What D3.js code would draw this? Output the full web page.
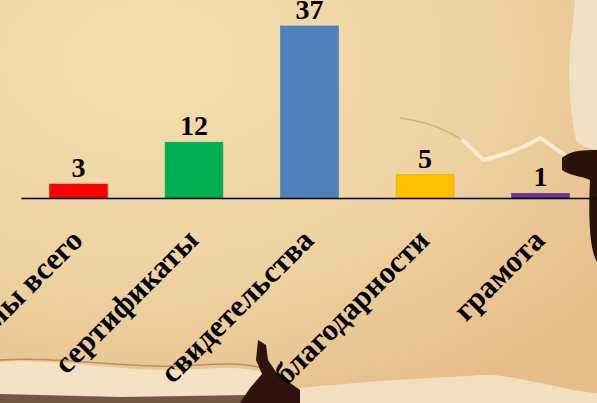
<!DOCTYPE html>
<html>
<head>
<meta charset="utf-8">
<script src="https://cdn.jsdelivr.net/npm/d3@7"></script>
<style>
  body { margin: 0; }
  svg { display: block; }
  .lbl { font-family: "Liberation Serif", "Times New Roman", serif; font-weight: bold; fill: #000; }
</style>
</head>
<body>
<svg width="597" height="403"></svg>
<script>
// data
var categories = ['дипломы всего', 'сертификаты', 'свидетельства', 'благодарности', 'грамота'];
var values = [3, 12, 37, 5, 1];
var colors = ['#ff0000', '#00b050', '#4f81bd', '#ffc000', '#7030a0'];

var svg = d3.select('svg');
var W = 597, H = 403;
var baseY = 198;

// parchment background
var defs = svg.append('defs');
var bg = defs.append('radialGradient').attr('id', 'paper')
  .attr('cx', '25%').attr('cy', '15%').attr('r', '95%');
bg.append('stop').attr('offset', '0%').attr('stop-color', '#f2dead');
bg.append('stop').attr('offset', '55%').attr('stop-color', '#eed4a2');
bg.append('stop').attr('offset', '100%').attr('stop-color', '#e6be8a');

svg.append('rect').attr('width', W).attr('height', H).attr('fill', 'url(#paper)');

// tears / creases of the old paper
svg.append('path')
  .attr('d', 'M0,362 C60,358 120,372 180,370 C220,368 240,366 262,372 L268,403 L0,403 Z')
  .attr('fill', '#f3e2c4');
svg.append('path')
  .attr('d', 'M0,360 C60,356 120,368 180,366 C220,364 240,362 262,368')
  .attr('fill', 'none').attr('stroke', '#8a5a30').attr('stroke-width', 1.5).attr('opacity', 0.5);
svg.append('path')
  .attr('d', 'M0,394 L120,397 L250,395 L300,398 L300,403 L0,403 Z')
  .attr('fill', '#3a1c10').attr('opacity', 0.7);
svg.append('path')
  .attr('d', 'M258,340 L266,345 L268,360 L276,372 L286,380 L300,390 L300,403 L240,403 L250,388 L262,374 L256,360 Z')
  .attr('fill', '#2e140c');
svg.append('path')
  .attr('d', 'M300,388 C360,382 420,378 470,376 C500,372 520,380 545,384 C565,388 580,392 597,393 L597,403 L300,403 Z')
  .attr('fill', '#f1dfc0');
svg.append('path')
  .attr('d', 'M575,0 L597,0 L597,150 C588,148 580,146 576,140 C570,110 566,70 572,30 Z')
  .attr('fill', '#f0e0c4');
svg.append('path')
  .attr('d', 'M562,158 C570,150 585,150 597,150 L597,262 C590,250 588,220 590,180 C582,176 570,176 562,170 Z')
  .attr('fill', '#2a1208');
svg.append('path')
  .attr('d', 'M462,140 C470,146 476,154 484,160 C500,156 520,150 540,138 C548,142 556,150 564,154')
  .attr('fill', 'none').attr('stroke', '#f6ecd8').attr('stroke-width', 4).attr('stroke-linecap', 'round');
svg.append('path')
  .attr('d', 'M400,118 C430,122 450,132 462,140')
  .attr('fill', 'none').attr('stroke', '#b98a5c').attr('stroke-width', 1.5).attr('opacity', 0.5);

// scales
var x = d3.scaleBand()
  .domain(categories)
  .range([20.75, 598.25])
  .paddingInner(0.5)
  .paddingOuter(0.25);

var y = d3.scaleLinear()
  .domain([0, 37])
  .range([baseY, 26]);

// bars
svg.selectAll('.bar')
  .data(values)
  .enter().append('rect')
    .attr('class', 'bar')
    .attr('x', function(d, i) { return x(categories[i]); })
    .attr('y', function(d) { return y(d); })
    .attr('width', x.bandwidth())
    .attr('height', function(d) { return baseY - y(d); })
    .attr('fill', function(d, i) { return colors[i]; })
    .attr('stroke', function(d, i) { return d3.color(colors[i]).darker(0.4); })
    .attr('stroke-width', 0.6);

// value labels
svg.selectAll('.val')
  .data(values)
  .enter().append('text')
    .attr('class', 'lbl val')
    .attr('x', function(d, i) { return x(categories[i]) + x.bandwidth() / 2; })
    .attr('y', function(d) { return y(d) - 7; })
    .attr('text-anchor', 'middle')
    .attr('font-size', 28)
    .text(function(d) { return d; });

// axis line + rotated category labels
var xAxis = d3.axisBottom(x).tickSize(0);
var ax = svg.append('g')
  .attr('transform', 'translate(0,' + baseY + ')')
  .call(xAxis);
ax.select('.domain').attr('stroke', '#000').attr('stroke-width', 1.5);
ax.selectAll('text')
  .attr('class', 'lbl')
  .attr('font-size', 31)
  .attr('text-anchor', 'end')
  .attr('x', 0).attr('y', 0).attr('dy', 0)
  .attr('transform', 'translate(6,44) rotate(-45)');
</script>
</body>
</html>
